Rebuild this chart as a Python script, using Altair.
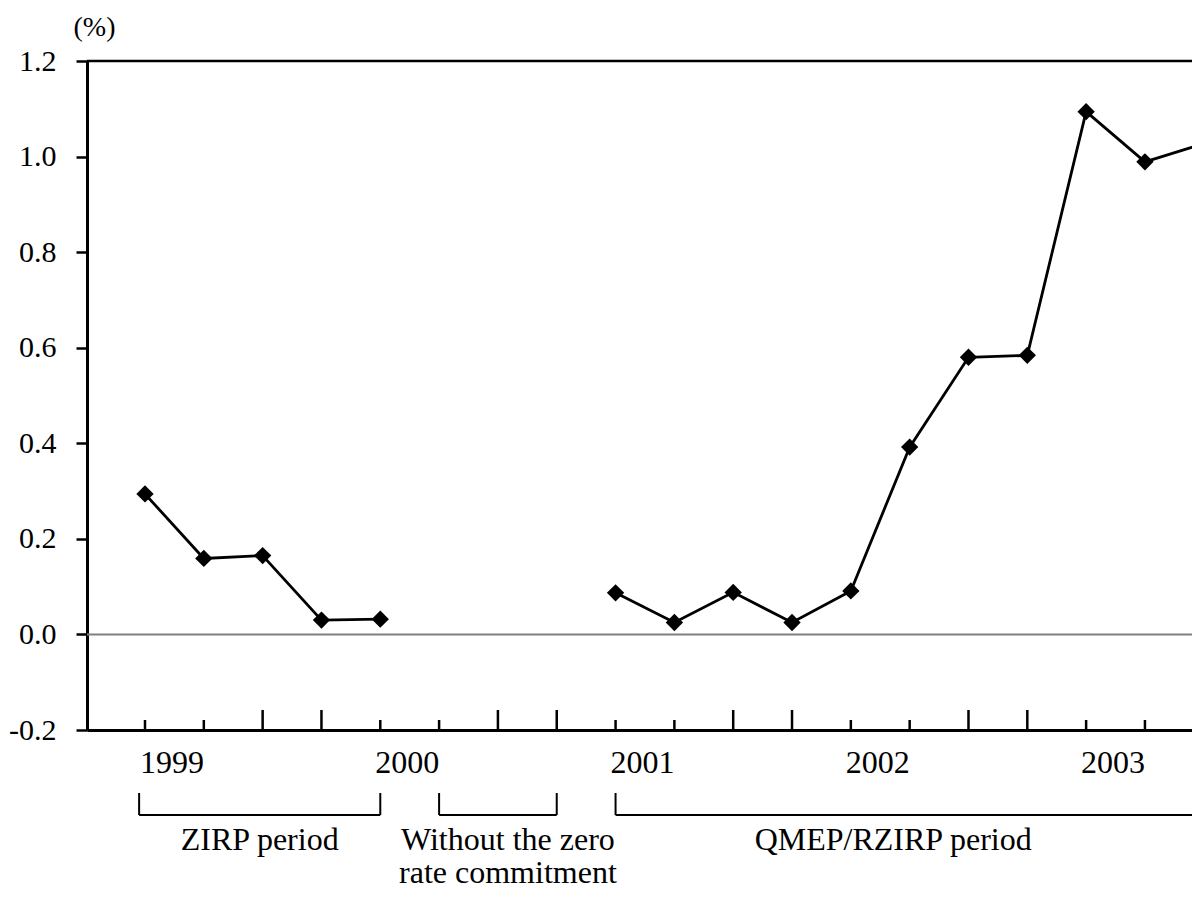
import altair as alt
import pandas as pd

# ---- data ----
quarter_index = list(range(19))
values = [0.294, 0.159, 0.165, 0.030, 0.032, None, None, None,
          0.087, 0.025, 0.088, 0.025, 0.091, 0.392, 0.580, 0.584,
          1.094, 0.989, 1.027]
segment = ["ZIRP"] * 5 + [None] * 3 + ["QMEP"] * 11

years = ["1999", "2000", "2001", "2002", "2003"]
year_start_index = [0, 4, 8, 12, 16]

bracket_names = ["ZIRP", "Without", "QMEP"]
bracket_start = [-0.1, 5, 8]
bracket_end = [4, 7, 19]
annotation_text = ["ZIRP period", "Without the zero\nrate commitment", "QMEP/RZIRP period"]
annotation_anchor = [1.95, 6.17, 12.72]

y_ticks = [-0.2, 0.0, 0.2, 0.4, 0.6, 0.8, 1.0, 1.2]

# ---- tables ----
series = pd.DataFrame({"idx": quarter_index, "value": values, "segment": segment}).dropna()
ticks = pd.DataFrame({"idx": quarter_index,
                      "long": [(i % 4) in (2, 3) for i in quarter_index]})
year_df = pd.DataFrame({"year": years, "idx": year_start_index})
br = pd.DataFrame({"name": bracket_names, "start": bracket_start, "end": bracket_end})
ann = pd.DataFrame({"text": annotation_text, "anchor": annotation_anchor})

FONT = "Liberation Serif"
XS = alt.Scale(domain=[-0.986, 17.80], nice=False, zero=False)
YS = alt.Scale(domain=[-0.2, 1.2], nice=False, zero=False)

base_x_axis = alt.Axis(domain=True, domainColor="black", domainWidth=3,
                       ticks=False, labels=False, grid=False, title=None)

y_axis = alt.Axis(values=y_ticks, grid=False, domain=True, domainColor="black",
                  domainWidth=3, tickColor="black", tickWidth=2.5, tickSize=11,
                  labelFont=FONT, labelFontSize=30, labelColor="black",
                  labelPadding=20,
                  labelExpr="datum.value < 0 ? '-' + format(-datum.value, '.1f') : format(datum.value, '.1f')",
                  title="(%)", titleAngle=0, titleX=7, titleY=-34,
                  titleAlign="center", titleBaseline="middle",
                  titleFont=FONT, titleFontSize=28, titleFontWeight="normal",
                  titleColor="black")

line = alt.Chart(series).mark_line(color="black", strokeWidth=2.8).encode(
    x=alt.X("idx:Q", scale=XS, axis=base_x_axis),
    y=alt.Y("value:Q", scale=YS, axis=y_axis),
    detail="segment:N",
)
points = alt.Chart(series).mark_point(shape="diamond", filled=True, color="black",
                                      size=300, opacity=1).encode(
    x=alt.X("idx:Q", scale=XS),
    y=alt.Y("value:Q", scale=YS),
)

zero_line = alt.Chart(pd.DataFrame({"v": [0.0]})).mark_rule(
    color="#808080", strokeWidth=2).encode(y=alt.Y("v:Q", scale=YS))
top_line = alt.Chart(pd.DataFrame({"v": [1.2]})).mark_rule(
    color="black", strokeWidth=2.5).encode(y=alt.Y("v:Q", scale=YS))

short_ticks = alt.Chart(ticks).transform_filter("!datum.long").mark_rule(
    color="black", strokeWidth=2.5).encode(
    x=alt.X("idx:Q", scale=XS), y=alt.value(669), y2=alt.value(659))
long_ticks = alt.Chart(ticks).transform_filter("datum.long").mark_rule(
    color="black", strokeWidth=2.5).encode(
    x=alt.X("idx:Q", scale=XS), y=alt.value(669), y2=alt.value(649))

year_labels = alt.Chart(year_df).mark_text(
    font=FONT, fontSize=32, color="black", align="center",
    baseline="alphabetic", dx=27).encode(
    x=alt.X("idx:Q", scale=XS), y=alt.value(712), text="year:N")

br_left = alt.Chart(br).mark_rule(color="black", strokeWidth=2).encode(
    x=alt.X("start:Q", scale=XS), y=alt.value(732), y2=alt.value(754))
br_right = alt.Chart(br).mark_rule(color="black", strokeWidth=2).encode(
    x=alt.X("end:Q", scale=XS), y=alt.value(732), y2=alt.value(754))
br_bottom = alt.Chart(br).mark_rule(color="black", strokeWidth=2).encode(
    x=alt.X("start:Q", scale=XS), x2="end:Q", y=alt.value(754))

ann_text = alt.Chart(ann).mark_text(
    font=FONT, fontSize=32, color="black", align="center",
    baseline="alphabetic", lineBreak="\n", lineHeight=33).encode(
    x=alt.X("anchor:Q", scale=XS), y=alt.value(789), text="text:N")

chart = alt.layer(
    zero_line, top_line, short_ticks, long_ticks, line, points,
    year_labels, br_left, br_right, br_bottom, ann_text,
).properties(
    width=1105, height=669,
    autosize=alt.AutoSizeParams(type="none"),
    padding={"left": 79, "top": 53, "right": 0, "bottom": 160},
    background="white",
).configure_view(stroke=None)

chart.save("out.html", embed_options={"renderer": "svg", "actions": False})
